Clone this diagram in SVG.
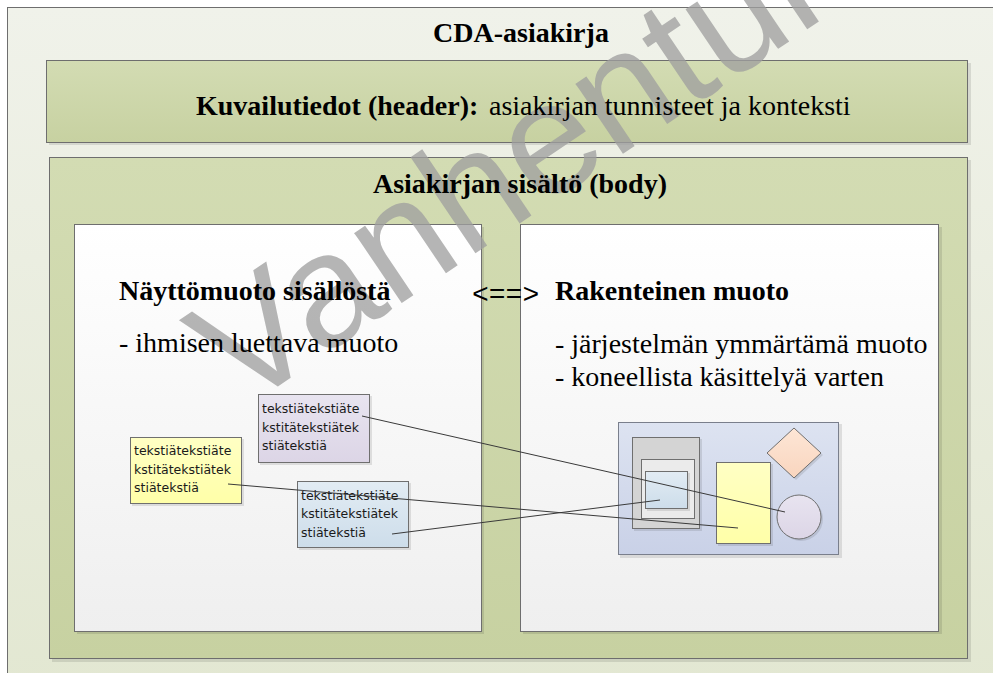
<svg xmlns="http://www.w3.org/2000/svg" width="993" height="673" viewBox="0 0 993 673">
  <defs>
    <linearGradient id="gOuter" x1="0" y1="0" x2="0" y2="1">
      <stop offset="0" stop-color="#F0F2EA"/>
      <stop offset="1" stop-color="#E2E7D1"/>
    </linearGradient>
    <linearGradient id="gGreen" x1="0" y1="0" x2="0" y2="1">
      <stop offset="0" stop-color="#D3DCB3"/>
      <stop offset="1" stop-color="#C7D1A1"/>
    </linearGradient>
    <linearGradient id="gPanel" x1="0" y1="0" x2="0" y2="1">
      <stop offset="0" stop-color="#FFFFFF"/>
      <stop offset="1" stop-color="#EFEFEF"/>
    </linearGradient>
    <linearGradient id="gCanvas" x1="0" y1="0" x2="0" y2="1">
      <stop offset="0" stop-color="#DDE3F1"/>
      <stop offset="1" stop-color="#C9D1E7"/>
    </linearGradient>
    <linearGradient id="gBlue" x1="0" y1="0" x2="0" y2="1">
      <stop offset="0" stop-color="#E2ECF4"/>
      <stop offset="1" stop-color="#CDDDEA"/>
    </linearGradient>
    <linearGradient id="gLilac" x1="0" y1="0" x2="0" y2="1">
      <stop offset="0" stop-color="#E8E4F0"/>
      <stop offset="1" stop-color="#DCD5E6"/>
    </linearGradient>
    <linearGradient id="gYellow" x1="0" y1="0" x2="0" y2="1">
      <stop offset="0" stop-color="#FFFFC4"/>
      <stop offset="1" stop-color="#FFFFA8"/>
    </linearGradient>
    <linearGradient id="gPeach" x1="0" y1="0" x2="0" y2="1">
      <stop offset="0" stop-color="#FDE6D6"/>
      <stop offset="1" stop-color="#F9D5BE"/>
    </linearGradient>
    <style>
      .frame { stroke: #6E6E6E; stroke-width: 1; }
      .shadow { fill: #000000; fill-opacity: 0.10; }
      .serif { font-family: "Liberation Serif", "Times New Roman", serif; fill: #000; }
      .b { font-weight: bold; }
      .big { font-size: 28px; }
      .note { font-family: "DejaVu Sans", Verdana, sans-serif; font-size: 12.5px; fill: #1A1A1A; }
      .shape { stroke: #6F6F6F; stroke-width: 1; }
      .link { stroke: #3A3A3A; stroke-width: 1; fill: none; }
    </style>
  </defs>

  <!-- frames -->
  <g id="boxes">
    <g id="cda-document">
      <rect x="7.5" y="7.5" width="1000" height="700" fill="url(#gOuter)" class="frame"/>
    </g>
    <g id="header">
      <rect x="49" y="63" width="922" height="82" class="shadow"/>
      <rect x="46.5" y="60.5" width="921" height="82" fill="url(#gGreen)" class="frame"/>
    </g>
    <g id="body">
      <rect x="52" y="160" width="919" height="502" class="shadow"/>
      <rect x="49.5" y="157.5" width="918" height="501" fill="url(#gGreen)" class="frame"/>
    </g>
    <g id="display-panel">
      <rect x="77" y="227" width="407" height="407" class="shadow"/>
      <rect x="74.5" y="224.5" width="407" height="407" fill="url(#gPanel)" class="frame"/>
    </g>
    <g id="structured-panel">
      <rect x="523" y="227" width="419" height="407" class="shadow"/>
      <rect x="520.5" y="224.5" width="418" height="407" fill="url(#gPanel)" class="frame"/>
    </g>
  </g>

  <!-- text notes of the display form -->
  <g id="note-lilac">
    <rect x="260" y="396" width="112" height="69" class="shadow"/>
    <rect x="258.5" y="394.5" width="111" height="68" fill="url(#gLilac)" class="shape"/>
    <text class="note" x="262" y="413">tekstiätekstiäte</text>
    <text class="note" x="262" y="432">kstitätekstiätek</text>
    <text class="note" x="262" y="450">stiätekstiä</text>
  </g>
  <g id="note-yellow">
    <rect x="132" y="439" width="112" height="67" class="shadow"/>
    <rect x="130.5" y="437.5" width="111" height="66" fill="url(#gYellow)" class="shape"/>
    <text class="note" x="134" y="455">tekstiätekstiäte</text>
    <text class="note" x="134" y="474">kstitätekstiätek</text>
    <text class="note" x="134" y="492">stiätekstiä</text>
  </g>
  <g id="note-blue">
    <rect x="299" y="483" width="112" height="67" class="shadow"/>
    <rect x="297.5" y="481.5" width="111" height="66" fill="url(#gBlue)" class="shape"/>
    <text class="note" x="301" y="500">tekstiätekstiäte</text>
    <text class="note" x="301" y="518">kstitätekstiätek</text>
    <text class="note" x="301" y="537">stiätekstiä</text>
  </g>

  <!-- structured form: shapes on a canvas -->
  <g id="structure-canvas">
    <rect x="620" y="424" width="222" height="134" class="shadow"/>
    <rect x="618.5" y="422.5" width="220" height="132" fill="url(#gCanvas)" stroke="#7A7F8C" stroke-width="1"/>
  </g>
  <g id="shape-container">
    <rect x="634" y="439" width="68" height="92" class="shadow"/>
    <rect x="632.5" y="437.5" width="67" height="91" fill="#D4D4D4" class="shape"/>
    <rect x="641.5" y="459.5" width="53" height="59" fill="#EBEBEB" class="shape"/>
  </g>
  <g id="shape-blue">
    <rect x="647" y="473" width="43" height="38" class="shadow"/>
    <rect x="645.5" y="471.5" width="42" height="37" fill="url(#gBlue)" class="shape"/>
  </g>
  <g id="shape-yellow">
    <rect x="718" y="464" width="55" height="82" class="shadow"/>
    <rect x="716.5" y="462.5" width="54" height="81" fill="url(#gYellow)" class="shape"/>
  </g>
  <g id="shape-diamond">
    <polygon points="796,430 823,455 796,480 769,455" class="shadow"/>
    <polygon points="794,428 821,453 794,478 767,453" fill="url(#gPeach)" class="shape"/>
  </g>
  <g id="shape-circle">
    <circle cx="801" cy="519" r="22" class="shadow"/>
    <circle cx="799" cy="517" r="22" fill="url(#gLilac)" class="shape"/>
  </g>

  <!-- connectors between notes and shapes -->
  <g id="connectors">
    <line class="link" x1="362" y1="416" x2="785" y2="512"/>
    <line class="link" x1="228" y1="484" x2="738" y2="528"/>
    <line class="link" x1="392" y1="534" x2="660" y2="500"/>
  </g>

  <!-- "outdated" stamp across the drawing -->
  <g id="watermark">
    <text x="240" y="412" transform="rotate(-34 240 412)" font-family="'Liberation Sans', Arial, sans-serif" font-size="160" fill="#9F9F9F" fill-opacity="0.77">Vanhentunut</text>
  </g>

  <!-- labels -->
  <g id="labels">
    <text id="cda-title" class="serif b big" x="521" y="42" text-anchor="middle">CDA-asiakirja</text>
    <text id="header-label" class="serif big" y="115"><tspan x="196" class="b">Kuvailutiedot (header):</tspan><tspan x="489">asiakirjan tunnisteet ja konteksti</tspan></text>
    <text id="body-title" class="serif b big" x="520" y="193" text-anchor="middle">Asiakirjan sisältö (body)</text>
    <text id="display-title" class="serif b big" x="119" y="300">Näyttömuoto sisällöstä</text>
    <text id="display-desc" class="serif big" x="119" y="352">- ihmisen luettava muoto</text>
    <text id="equivalence" x="472" y="303" font-family="'Liberation Mono', 'Courier New', monospace" font-size="28" fill="#000">&lt;==&gt;</text>
    <text id="structured-title" class="serif b big" x="555" y="300">Rakenteinen muoto</text>
    <text id="structured-desc" class="serif big"><tspan x="555" y="353">- järjestelmän ymmärtämä muoto</tspan><tspan x="555" y="386">- koneellista käsittelyä varten</tspan></text>
  </g>
</svg>
